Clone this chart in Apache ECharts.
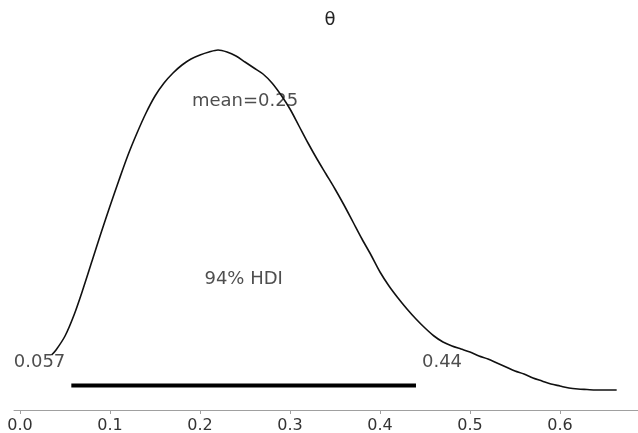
<!DOCTYPE html>
<html>
<head>
<meta charset="utf-8">
<script src="https://cdn.jsdelivr.net/npm/echarts@6/dist/echarts.min.js"></script>
<style>
  html, body { margin: 0; padding: 0; background: #fff; }
  #main { width: 638px; height: 433px; }
</style>
</head>
<body>
<div id="main"></div>
<script>
// posterior density of theta
let thetaX = [0.035, 0.04, 0.05, 0.06, 0.07, 0.08, 0.09, 0.10, 0.11, 0.12,
  0.13, 0.14, 0.15, 0.16, 0.17, 0.18, 0.19, 0.20, 0.21, 0.22,
  0.23, 0.24, 0.25, 0.26, 0.27, 0.28, 0.29, 0.30, 0.31, 0.32,
  0.33, 0.34, 0.35, 0.36, 0.37, 0.38, 0.39, 0.40, 0.41, 0.42,
  0.43, 0.44, 0.45, 0.46, 0.47, 0.48, 0.49, 0.50, 0.51, 0.52,
  0.53, 0.54, 0.55, 0.56, 0.57, 0.58, 0.59, 0.60, 0.61, 0.62,
  0.63, 0.64, 0.663]
let density = [0.35, 0.40, 0.54, 0.75, 1.01, 1.29, 1.57, 1.84, 2.10, 2.35,
  2.57, 2.77, 2.94, 3.07, 3.17, 3.25, 3.31, 3.35, 3.38, 3.40,
  3.38, 3.34, 3.28, 3.22, 3.16, 3.07, 2.95, 2.81, 2.64, 2.47,
  2.31, 2.16, 2.01, 1.85, 1.68, 1.51, 1.35, 1.18, 1.04, 0.92,
  0.81, 0.71, 0.62, 0.54, 0.48, 0.44, 0.41, 0.38, 0.34, 0.31,
  0.27, 0.23, 0.19, 0.16, 0.12, 0.09, 0.06, 0.04, 0.02, 0.01,
  0.005, 0.0, 0.0]

let hdi = [0.057, 0.44]
let hdiLabels = ['0.057', '0.44']
let hdiLevel = 0.045      // height of the HDI bar
let hdiLabelLevel = 0.28  // height of the bound labels
let hdiTextLevel = 1.11
let meanValue = 0.25
let meanLevel = 2.89
let xTicks = [0, 0.1, 0.2, 0.3, 0.4, 0.5, 0.6]

let font = 'DejaVu Sans'
let chart = echarts.init(document.getElementById('main'))

let curve = thetaX.map((x, i) => [x, density[i]])
let hdiBar = hdi.map(x => [x, hdiLevel])

chart.setOption({
  animation: false,
  backgroundColor: '#fff',
  title: {
    text: 'θ',
    left: 330,
    top: 11,
    padding: 0,
    textAlign: 'center',
    textStyle: { fontFamily: font, fontSize: 18, fontWeight: 'normal', color: '#222' }
  },
  // keep the plot box fixed, labels may touch the edge like the original
  grid: { left: 14, right: 0, top: 40, bottom: 23, outerBoundsMode: 'none' },
  xAxis: {
    type: 'value',
    min: -0.0067,
    max: 0.6867,
    splitLine: { show: false },
    axisLine: { onZero: false, lineStyle: { color: '#a0a0a0', width: 1 } },
    axisTick: { customValues: xTicks, length: 4, lineStyle: { color: '#a0a0a0' } },
    axisLabel: {
      customValues: xTicks,
      margin: 8,
      fontFamily: font,
      fontSize: 16,
      color: '#333',
      formatter: v => v.toFixed(1)
    }
  },
  yAxis: {
    type: 'value',
    min: -0.2,
    max: 3.5,
    show: false
  },
  series: [
    {
      type: 'line',
      data: curve,
      smooth: 0.3,
      showSymbol: false,
      lineStyle: { color: '#111', width: 1.6 }
    },
    {
      type: 'line',
      data: hdiBar,
      showSymbol: false,
      lineStyle: { color: '#000', width: 4, cap: 'butt' }
    },
    {
      // HDI bound labels
      type: 'scatter',
      symbolSize: 0,
      data: hdi.map((x, i) => ({
        value: [x, hdiLabelLevel],
        label: { formatter: hdiLabels[i], position: i === 0 ? 'left' : 'right' }
      })),
      label: { show: true, distance: 6, fontFamily: font, fontSize: 18, color: '#222' }
    },
    {
      type: 'scatter',
      symbolSize: 0,
      data: [
        { value: [(hdi[0] + hdi[1]) / 2, hdiTextLevel], label: { formatter: '94% HDI' } },
        { value: [meanValue, meanLevel], label: { formatter: 'mean=' + meanValue } }
      ],
      label: { show: true, position: 'inside', fontFamily: font, fontSize: 18, color: '#222' }
    }
  ]
})
</script>
</body>
</html>
